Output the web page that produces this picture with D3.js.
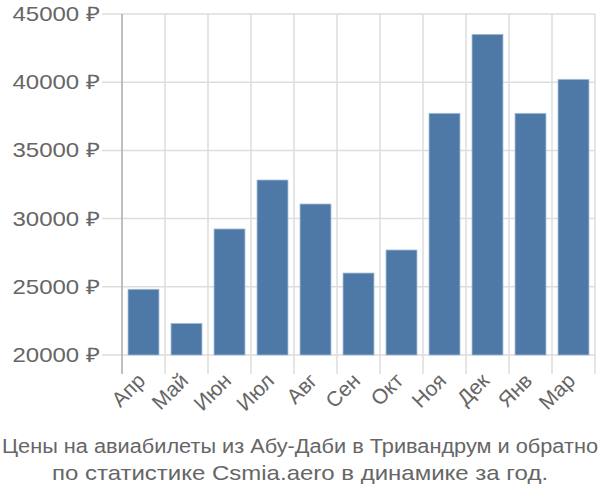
<!DOCTYPE html>
<html><head><meta charset="utf-8">
<script src="https://cdn.jsdelivr.net/npm/d3@7/dist/d3.min.js"></script>
<style>body{margin:0;background:#fff;} text{font-family:"Liberation Sans",Arial,sans-serif;}</style>
</head><body>
<svg id="c" width="600" height="500"></svg>
<script>
const categories = ["Апр","Май","Июн","Июл","Авг","Сен","Окт","Ноя","Дек","Янв","Мар"];
const values = [24820, 22320, 29240, 32830, 31070, 26010, 27700, 37720, 43510, 37720, 40210];
const yTicks = [20000, 25000, 30000, 35000, 40000, 45000];
const titleLines = ["Цены на авиабилеты из Абу-Даби в Тривандрум и обратно", "по статистике Csmia.aero в динамике за год."];

(function(){
const svg = d3.select("#c");
const mL = 122, mR = 595, mT = 14, mB = 355;
const sx = 1.2;
const x = d3.scaleBand().domain(categories).range([mL, mR]).paddingInner(0.28).paddingOuter(0.14);
const xg = d3.scaleBand().domain(categories).range([mL, mR]);
const y = d3.scaleLinear().domain([20000, 45000]).range([mB, mT]);

svg.append("g").selectAll("line").data(yTicks).join("line")
  .attr("x1", 102).attr("x2", mR).attr("y1", d => y(d)).attr("y2", d => y(d))
  .attr("stroke", "#ddd").attr("stroke-width", 1.5);
const bounds = categories.map(c => xg(c)).concat([mR]);
svg.append("g").selectAll("line").data(bounds.slice(1)).join("line")
  .attr("x1", d => d).attr("x2", d => d).attr("y1", mT).attr("y2", 374)
  .attr("stroke", "#ddd").attr("stroke-width", 1.5);
svg.append("line").attr("x1", mL).attr("x2", mL).attr("y1", mT).attr("y2", 374)
  .attr("stroke", "#aaa").attr("stroke-width", 1.5);

svg.append("g").selectAll("rect").data(values).join("rect")
  .attr("x", (d, i) => x(categories[i])).attr("width", x.bandwidth())
  .attr("y", d => y(d)).attr("height", d => y(20000) - y(d))
  .attr("fill", "#4e79a7").attr("stroke", "#a9bfd8").attr("stroke-width", 0.8);

svg.append("g").selectAll("text").data(yTicks).join("text")
  .attr("transform", d => `translate(100,${y(d)}) scale(${sx},1)`)
  .attr("dy", "0.35em")
  .attr("text-anchor", "end").attr("fill", "#666").attr("font-size", 20)
  .text(d => d + " ₽");

svg.append("g").selectAll("text").data(categories).join("text")
  .attr("text-anchor", "end").attr("fill", "#666").attr("font-size", 21)
  .attr("transform", d => `translate(${xg(d) + xg.bandwidth()/2 + 3},${382}) rotate(-45)`)
  .text(d => d);

svg.append("text").attr("x", 300).attr("y", 453).attr("text-anchor", "middle")
  .attr("fill", "#666").attr("font-size", 20)
  .attr("textLength", 596).attr("lengthAdjust", "spacingAndGlyphs")
  .text(titleLines[0]);
svg.append("text").attr("transform", `translate(300,480) scale(${sx},1)`).attr("text-anchor", "middle")
  .attr("fill", "#666").attr("font-size", 20).text(titleLines[1]);
})();
</script>
</body></html>
